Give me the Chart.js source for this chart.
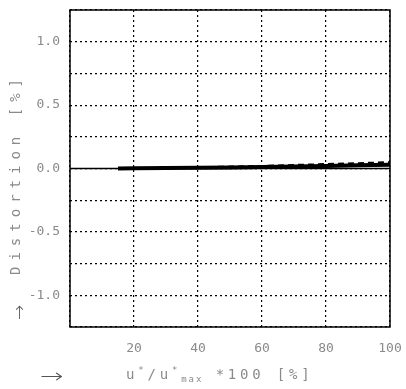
<!DOCTYPE html>
<html>
<head>
<meta charset="utf-8">
<script src="https://cdn.jsdelivr.net/npm/chart.js@4"></script>
<style>
  body { margin: 0; background: #fff; }
  #wrap { position: relative; width: 406px; height: 389px; }
  .lbl { position: absolute; color: #8a8a8a; font-family: "DejaVu Sans Mono", monospace; font-size: 13px; white-space: nowrap; }
  #ytitle { left: 15px; top: 174px; transform: translate(-50%, -50%) rotate(-90deg); letter-spacing: 6px; font-size: 14px; }
  #xtitle { left: 126px; top: 365px; letter-spacing: 3.8px; font-size: 14px; }
  #xtitle sup { font-size: 9px; }
  #xtitle sub { font-size: 9px; letter-spacing: 2px; }
  #uparrow { left: 12px; top: 302px; color: #555; font-size: 18px; font-family: "DejaVu Sans"; font-weight: 300; }
  #rarrow { left: 40px; top: 364px; color: #555; font-size: 20px; font-family: "DejaVu Sans"; font-weight: 300; transform: scaleX(1.4); transform-origin: left center; }
</style>
</head>
<body>
<div id="wrap">
  <canvas id="chart" width="406" height="389"></canvas>
  <div class="lbl" id="ytitle">Distortion [%]</div>
  <div class="lbl" id="xtitle">u<sup>*</sup>/u<sup>*</sup><sub>max</sub> *100 [%]</div>
  <div class="lbl" id="uparrow">↑</div>
  <div class="lbl" id="rarrow">→</div>
</div>
<script>
// Datos
var xVals = [15, 20, 30, 40, 50, 60, 70, 80, 90, 100];
var distA = [0.0, 0.002, 0.004, 0.006, 0.008, 0.011, 0.015, 0.02, 0.025, 0.03];
var distB = [0.0, 0.003, 0.006, 0.01, 0.015, 0.02, 0.028, 0.035, 0.042, 0.05];
var zeroX = [0, 100];
var zeroY = [0, 0];

function toPoints(xs, ys) {
    return xs.map(function(x, i) { return { x: x, y: ys[i] }; });
}

// Marco del área de la gráfica
var framePlugin = {
    id: 'frame',
    afterDraw: function(chart) {
        var a = chart.chartArea;
        var ctx = chart.ctx;
        ctx.save();
        ctx.strokeStyle = '#000';
        ctx.lineWidth = 1.5;
        ctx.strokeRect(a.left, a.top, a.right - a.left, a.bottom - a.top);
        ctx.restore();
    }
};

var ctx = document.getElementById('chart').getContext('2d');
var chart = new Chart(ctx, {
    type: 'line',
    data: {
        datasets: [{
            data: toPoints(zeroX, zeroY),
            borderColor: '#000',
            borderWidth: 1.5,
            pointRadius: 0
        }, {
            data: toPoints(xVals, distA),
            borderColor: '#000',
            borderWidth: 4,
            pointRadius: 0
        }, {
            data: toPoints(xVals, distB),
            borderColor: '#000',
            borderWidth: 2,
            borderDash: [6, 4],
            pointRadius: 0
        }]
    },
    options: {
        responsive: false,
        animation: false,
        layout: { padding: { top: 10, right: 16, left: 0, bottom: 0 } },
        plugins: { legend: { display: false }, tooltip: { enabled: false } },
        scales: {
            x: {
                type: 'linear',
                min: 0,
                max: 100,
                afterFit: function(s) { s.height = 62; s.paddingLeft = 0; s.paddingRight = 0; },
                ticks: {
                    stepSize: 20,
                    color: '#8a8a8a',
                    font: { family: 'DejaVu Sans Mono', size: 13 },
                    padding: 14,
                    maxRotation: 0,
                    callback: function(v) { return v === 0 ? '' : v; }
                },
                grid: {
                    drawTicks: false,
                    color: '#000',
                    lineWidth: 1.2
                },
                border: { display: false, dash: [2, 3] }
            },
            y: {
                min: -1.25,
                max: 1.25,
                afterFit: function(s) { s.width = 70; s.paddingTop = 0; s.paddingBottom = 0; },
                ticks: {
                    stepSize: 0.25,
                    color: '#8a8a8a',
                    font: { family: 'DejaVu Sans Mono', size: 13 },
                    padding: 10,
                    callback: function(v) {
                        return Math.abs(v * 2 - Math.round(v * 2)) < 1e-6 && Math.abs(v) < 1.2 ? v.toFixed(1) : '';
                    }
                },
                grid: {
                    drawTicks: false,
                    color: '#000',
                    lineWidth: 1.2
                },
                border: { display: false, dash: [2, 3] }
            }
        }
    },
    plugins: [framePlugin]
});
</script>
</body>
</html>
